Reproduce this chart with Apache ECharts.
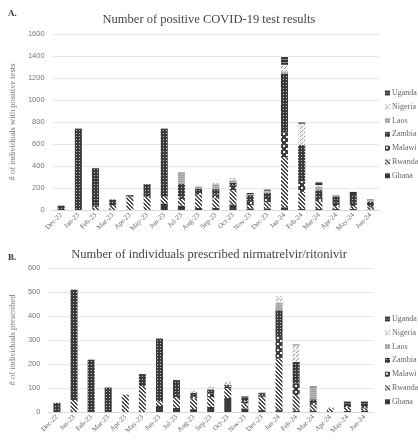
<!DOCTYPE html>
<html><head><meta charset="utf-8">
<script src="https://cdn.jsdelivr.net/npm/echarts@6/dist/echarts.min.js"></script>
<style>html,body{margin:0;padding:0;background:#fff}#c{width:418px;height:440px}</style>
</head><body><div id="c"></div>
<script>
const months = ['Dec-22','Jan-23','Feb-23','Mar-23','Apr-23','May-23','Jun-23','Jul-23','Aug-23','Sep-23','Oct-23','Nov-23','Dec-23','Jan-24','Feb-24','Mar-24','Apr-24','May-24','Jun-24'];
const countries = ['Ghana','Rwanda','Malawi','Zambia','Laos','Nigeria','Uganda'];

// Chart A: positive tests
const posGhana   = [0,0,0,0,0,0,60,40,20,20,50,15,15,25,10,10,10,10,5];
const posRwanda  = [0,0,30,40,120,120,60,60,120,90,130,30,55,455,155,70,25,25,20];
const posMalawi  = [0,0,0,0,0,0,0,20,15,30,40,30,30,225,95,30,20,20,10];
const posZambia  = [40,740,350,55,15,115,620,120,40,50,30,60,55,535,330,70,70,90,40];
const posLaos    = [0,0,0,0,0,0,0,105,20,45,20,10,15,20,0,30,10,0,25];
const posNigeria = [0,0,0,0,0,0,0,0,10,10,25,0,5,60,195,15,0,0,0];
const posUganda  = [0,0,0,0,0,0,0,0,0,0,0,10,10,70,15,30,0,20,0];

// Chart B: prescribed nirmatrelvir/ritonavir
const rxGhana   = [0,0,0,0,0,0,25,18,12,22,58,15,8,8,5,5,0,5,5];
const rxRwanda  = [0,50,0,0,72,108,20,40,45,40,40,20,55,214,65,25,15,15,10];
const rxMalawi  = [0,0,0,0,0,0,0,5,8,15,10,10,5,91,48,8,0,5,5];
const rxZambia  = [38,460,218,102,0,50,261,70,15,15,5,15,8,111,91,15,0,10,15];
const rxLaos    = [0,0,0,0,0,0,0,0,0,5,0,0,0,30,0,50,0,0,0];
const rxNigeria = [0,0,0,0,0,0,0,0,10,10,15,0,0,28,69,0,5,0,0];
const rxUganda  = [0,0,0,0,0,0,0,0,0,0,0,5,5,0,4,5,0,10,10];

const yTicksA = {max:1600, interval:200};
const yTicksB = {max:600, interval:100};

function pat(w,h,draw){const c=document.createElement('canvas');c.width=w;c.height=h;const g=c.getContext('2d');draw(g);return {image:c,repeat:'repeat'};}
const fills = {
  Ghana: pat(3,3,g=>{g.fillStyle='#383838';g.fillRect(0,0,3,3);g.fillStyle='#4a4a4a';g.fillRect(1,1,1,1);}),
  Rwanda: pat(4,4,g=>{g.fillStyle='#f4f4f4';g.fillRect(0,0,4,4);g.fillStyle='#4a4a4a';for(let i=0;i<4;i++){g.fillRect(i,i,1,1);g.fillRect((i+1)%4,i,1,1);}}),
  Malawi: pat(6,6,g=>{g.fillStyle='#3e3e3e';g.fillRect(0,0,6,6);g.fillStyle='#f2f2f2';g.fillRect(1,1,2,2);g.fillRect(4,4,2,2);}),
  Zambia: pat(3,3,g=>{g.fillStyle='#3a3a3a';g.fillRect(0,0,3,3);g.fillStyle='#c8c8c8';g.fillRect(1,1,1,1);}),
  Laos: pat(2,2,g=>{g.fillStyle='#a0a0a0';g.fillRect(0,0,2,2);g.fillStyle='#b8b8b8';g.fillRect(0,0,2,1);}),
  Nigeria: pat(4,4,g=>{g.fillStyle='#f2f2f2';g.fillRect(0,0,4,4);g.fillStyle='#9a9a9a';g.fillRect(0,0,1,1);g.fillRect(2,2,1,1);g.fillRect(1,3,1,1);}),
  Uganda: pat(1,3,g=>{g.fillStyle='#333';g.fillRect(0,0,1,3);g.fillStyle='#8a8a8a';g.fillRect(0,2,1,1);})
};
const dataA = {Ghana:posGhana,Rwanda:posRwanda,Malawi:posMalawi,Zambia:posZambia,Laos:posLaos,Nigeria:posNigeria,Uganda:posUganda};
const dataB = {Ghana:rxGhana,Rwanda:rxRwanda,Malawi:rxMalawi,Zambia:rxZambia,Laos:rxLaos,Nigeria:rxNigeria,Uganda:rxUganda};

const serif = '"Liberation Serif", "DejaVu Serif", serif';
const sans = '"Liberation Sans", Arial, sans-serif';
const legendOrder = countries.slice().reverse();

function xAx(gi){return {type:'category',gridIndex:gi,data:months,axisTick:{show:false},
  axisLine:{lineStyle:{color:'#d9d9d9'}},
  axisLabel:{rotate:45,fontSize:7,fontFamily:serif,color:'#666',margin:4,interval:0}};}
function yAx(gi,t,name,gap){return {type:'value',gridIndex:gi,min:0,max:t.max,interval:t.interval,
  name:name,nameLocation:'middle',nameRotate:90,nameGap:gap,
  nameTextStyle:{fontFamily:serif,fontSize:8.5,color:'#777'},
  axisLabel:{fontFamily:sans,fontSize:7.5,color:'#777',margin:8,formatter:v=>String(v)},
  splitLine:{lineStyle:{color:'#e8e8e8'}},axisLine:{show:false},axisTick:{show:false}};}

const series=[];
countries.forEach(n=>{
  series.push({name:n,type:'bar',stack:'a',xAxisIndex:0,yAxisIndex:0,barWidth:7,data:dataA[n],itemStyle:{color:fills[n]}});
});
countries.forEach(n=>{
  series.push({name:n,type:'bar',stack:'b',xAxisIndex:1,yAxisIndex:1,barWidth:7,data:dataB[n],itemStyle:{color:fills[n]}});
});

function leg(top){return {orient:'vertical',left:380,top:top,data:legendOrder,icon:'rect',itemWidth:5,itemHeight:5,itemGap:3.8,
  textStyle:{fontFamily:serif,fontSize:8,color:'#666',lineHeight:10,padding:[0,0,0,-3]},selectedMode:false};}

const chart = echarts.init(document.getElementById('c'),null,{renderer:'canvas'});
chart.setOption({
  animation:false,
  title:[
    {text:'A.',left:3,top:4,textStyle:{fontFamily:serif,fontSize:9,fontWeight:'bold',color:'#333'}},
    {text:'Number of positive COVID-19 test results',left:'center',top:8,textStyle:{fontFamily:serif,fontSize:12.5,fontWeight:'normal',color:'#444'}},
    {text:'B.',left:3,top:248,textStyle:{fontFamily:serif,fontSize:9,fontWeight:'bold',color:'#333'}},
    {text:'Number of individuals prescribed nirmatrelvir/ritonivir',left:'center',top:243,textStyle:{fontFamily:serif,fontSize:12.5,fontWeight:'normal',color:'#444'}}
  ],
  legend:[leg(83),leg(309)],
  grid:[{left:41,right:39,top:34,bottom:230},{left:37,right:45,top:268,bottom:28}],
  xAxis:[xAx(0),xAx(1)],
  yAxis:[yAx(0,yTicksA,'# of individuals with positive tests',26),yAx(1,yTicksB,'# of individuals prescribed',22)],
  series:series
});
</script></body></html>
